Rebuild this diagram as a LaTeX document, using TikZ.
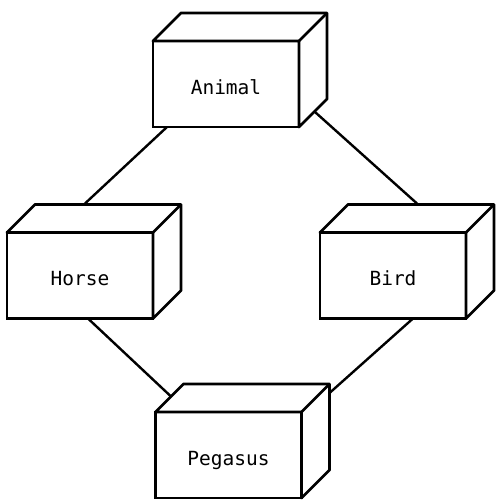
\documentclass[tikz,border=0pt]{standalone}
\usepackage{fontspec}
\setmonofont{DejaVu Sans Mono}
\usetikzlibrary{calc,backgrounds}

\begin{document}
\begin{tikzpicture}[x=1pt,y=-1pt,
    box/.style={draw, fill=white, line width=2.8pt, outer sep=0pt, inner sep=0pt,
                minimum width=146pt, minimum height=86pt,
                text height=20pt, text depth=0pt,
                font=\ttfamily\fontsize{19.5}{21}\selectfont},
    link/.style={line width=2.4pt}]
    \useasboundingbox (0,0) rectangle (500,501);

    \node[box] (animal) at (226,84) {Animal};
    \node[box] (horse) at (80,275.5) {Horse};
    \node[box] (bird) at (393,275.5) {Bird};
    \node[box] (pegasus) at (228.5,455) {Pegasus};

    % top and side faces
    \foreach \n in {animal,horse,bird,pegasus} {
        \draw[line width=2.8pt, fill=white, line join=round] (\n.north west) -- ++(28,-28)
            -- ($(\n.north east)+(28,-28)$) -- ($(\n.south east)+(28,-28)$)
            -- (\n.south east) -- (\n.north east) -- cycle;
        \draw[line width=2.8pt] (\n.north east) -- ++(28,-28);
    }

    \begin{scope}[on background layer]
        \draw[link] ($(animal.south west)+(14,0)$) -- ($(horse.north west)+(78,-29)$);
        \draw[link] ($(animal.south east)+(16,-15)$) -- ($(bird.north west)+(97,-29)$);
        \draw[link] ($(horse.south west)+(81,0)$) -- ($(pegasus.north west)+(15,-16)$);
        \draw[link] ($(bird.south west)+(93,0)$) -- ($(pegasus.north east)+(28,-19)$);
    \end{scope}

\end{tikzpicture}
\end{document}
